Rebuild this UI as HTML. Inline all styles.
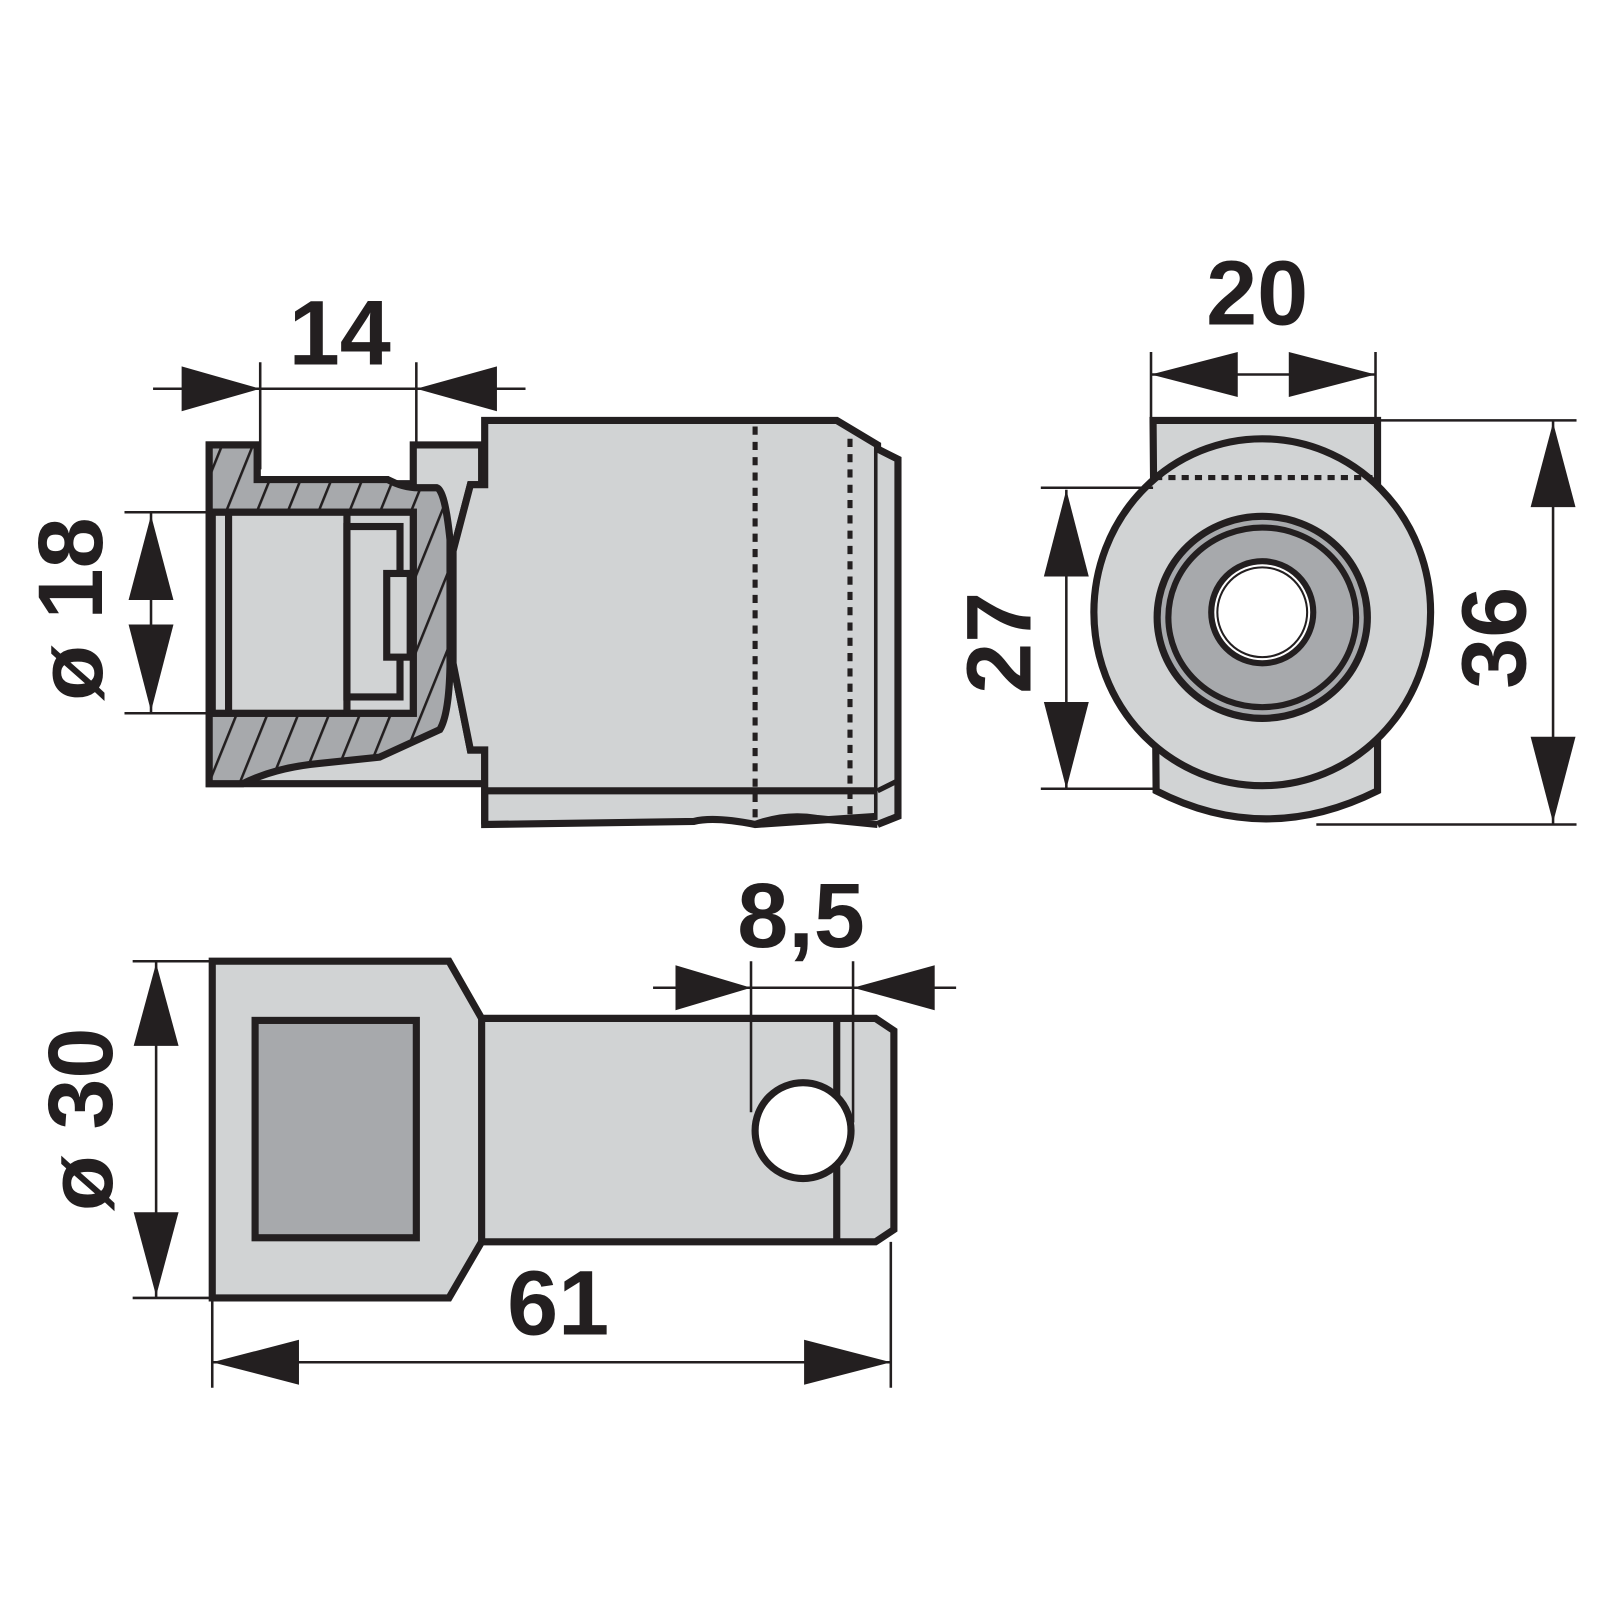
<!DOCTYPE html>
<html><head><meta charset="utf-8"><style>html,body{margin:0;padding:0;background:#fff}svg{display:block}</style></head>
<body>
<svg width="1600" height="1600" viewBox="0 0 1568 1568" xmlns="http://www.w3.org/2000/svg">
<defs>
<pattern id="h" patternUnits="userSpaceOnUse" width="28" height="28" patternTransform="rotate(22)">
<rect width="28" height="28" fill="#a7a9ac"/><line x1="0" y1="0" x2="0" y2="28" stroke="#231f20" stroke-width="5"/>
</pattern>
</defs>
<g font-family="Liberation Sans, Arial, sans-serif" font-weight="bold" font-size="90" fill="#231f20" text-anchor="middle">
<text x="333" y="357">14</text>
<text x="1232" y="318">20</text>
<text x="785" y="928">8,5</text>
<text x="547" y="1308">61</text>
<text transform="translate(100,597) rotate(-90)">ø 18</text>
<text transform="translate(110,1097) rotate(-90)">ø 30</text>
<text transform="translate(1010,630) rotate(-90)">27</text>
<text transform="translate(1495,625) rotate(-90)">36</text>
</g>
<g stroke="#231f20" stroke-linejoin="miter">
<path d="M205,436 L252,436 L252,474 L405,474 L405,436 L472,436 L472,475 L461,475 L444,540 L444,650 L461,735 L475,735 L475,768 L205,768 Z" fill="#d1d3d4" stroke-width="7"/>
<path d="M205,436 L252,436 L252,470 L380,470 Q395,478 410,478 L428,478 Q436,480 441,529 L441,653 Q440,700 431,715 L372,742 L314,748 Q270,752 238,768 L205,768 Z M208,502 L405,502 L405,699 L208,699 Z" fill="url(#h)" fill-rule="evenodd" stroke-width="7"/>
<rect x="208" y="502" width="197" height="197" fill="#d1d3d4" stroke-width="7"/>
<line x1="224" y1="502" x2="224" y2="699" stroke-width="7"/>
<line x1="340" y1="502" x2="340" y2="699" stroke-width="7"/>
<rect x="340" y="516" width="52" height="167" fill="#d1d3d4" stroke-width="7"/>
<rect x="379" y="562" width="23" height="82" fill="#d1d3d4" stroke-width="7"/>
<path d="M475,412 L820,412 L860,436 L860,800 L740,808 Q700,800 680,805 L475,808 L475,735 L461,735 L444,650 L444,540 L461,475 L475,475 Z" fill="#d1d3d4" stroke-width="7"/>
<path d="M475,808 L475,775 L860,775" fill="none" stroke-width="7"/>
<path d="M860,440 L880,450 L880,800 L860,808" fill="#d1d3d4" stroke-width="7"/>
<line x1="860" y1="775" x2="880" y2="765" stroke-width="5"/>
<path d="M740,808 Q770,797 800,802 L860,808" fill="none" stroke-width="7"/>
<line x1="740" y1="418" x2="740" y2="805" stroke-width="5" stroke-dasharray="8,7"/>
<line x1="833" y1="430" x2="833" y2="808" stroke-width="5" stroke-dasharray="8,7"/>
<path d="M208,942 L440,942 L472,998 L858,998 L876,1010 L876,1205 L858,1217 L472,1217 L440,1272 L208,1272 Z" fill="#d1d3d4" stroke-width="7"/>
<line x1="472" y1="998" x2="472" y2="1217" stroke-width="7"/>
<rect x="250" y="1000" width="158" height="213" fill="#a7a9ac" stroke-width="7"/>
<line x1="820" y1="998" x2="820" y2="1217" stroke-width="7"/>
<circle cx="787" cy="1108" r="47" fill="#fff" stroke-width="7"/>
<path d="M1130,412 L1350,412 L1350,775 Q1240,830 1133,775 Z" fill="#d1d3d4" stroke-width="7"/>
<ellipse cx="1237" cy="600" rx="165" ry="170" fill="#d1d3d4" stroke-width="7"/>
<line x1="1132" y1="468" x2="1345" y2="468" stroke-width="5" stroke-dasharray="7,6"/>
<ellipse cx="1237" cy="605" rx="103" ry="99" fill="#a7a9ac" stroke-width="7"/>
<ellipse cx="1237" cy="605" rx="92" ry="88" fill="none" stroke-width="6"/>
<circle cx="1237" cy="600" r="50" fill="#fff" stroke-width="6"/>
<circle cx="1237" cy="600" r="44" fill="none" stroke-width="2"/>
</g>
<g stroke="#231f20" stroke-width="2.5" fill="none">
<line x1="150" y1="381" x2="515" y2="381"/><line x1="255" y1="355" x2="255" y2="460"/><line x1="408" y1="355" x2="408" y2="436"/>
<line x1="148" y1="502" x2="148" y2="699"/><line x1="122" y1="502" x2="208" y2="502"/><line x1="122" y1="699" x2="208" y2="699"/>
<line x1="1128" y1="367" x2="1348" y2="367"/><line x1="1128" y1="345" x2="1128" y2="412"/><line x1="1348" y1="345" x2="1348" y2="412"/>
<line x1="1045" y1="480" x2="1045" y2="773"/><line x1="1020" y1="478" x2="1130" y2="478"/><line x1="1020" y1="773" x2="1133" y2="773"/>
<line x1="1522" y1="412" x2="1522" y2="808"/><line x1="1350" y1="412" x2="1545" y2="412"/><line x1="1290" y1="808" x2="1545" y2="808"/>
<line x1="640" y1="968" x2="937" y2="968"/><line x1="736" y1="942" x2="736" y2="1090"/><line x1="836" y1="942" x2="836" y2="1100"/>
<line x1="153" y1="942" x2="153" y2="1272"/><line x1="130" y1="942" x2="208" y2="942"/><line x1="130" y1="1272" x2="208" y2="1272"/>
<line x1="208" y1="1335" x2="873" y2="1335"/><line x1="208" y1="1275" x2="208" y2="1360"/><line x1="873" y1="1217" x2="873" y2="1360"/>
</g>
<g fill="#231f20">
<polygon points="255,381 178,359 178,403"/><polygon points="408,381 487,359 487,403"/>
<polygon points="148,505 126,588 170,588"/><polygon points="148,697 126,612 170,612"/>
<polygon points="1128,367 1213,345 1213,389"/><polygon points="1348,367 1263,345 1263,389"/>
<polygon points="1045,480 1023,565 1067,565"/><polygon points="1045,773 1023,688 1067,688"/>
<polygon points="1522,414 1500,497 1544,497"/><polygon points="1522,806 1500,722 1544,722"/>
<polygon points="736,968 662,946 662,990"/><polygon points="836,968 916,946 916,990"/>
<polygon points="153,944 131,1025 175,1025"/><polygon points="153,1270 131,1188 175,1188"/>
<polygon points="208,1335 293,1313 293,1357"/><polygon points="873,1335 788,1313 788,1357"/>
</g>
</svg>
</body></html>
